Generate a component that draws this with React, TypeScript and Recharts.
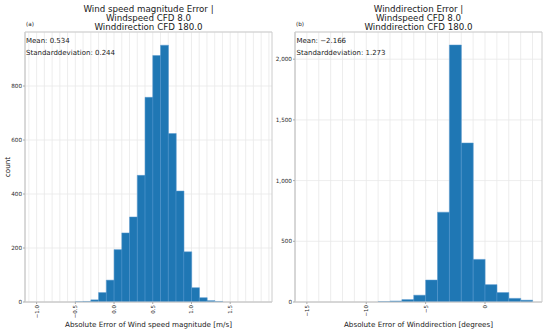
import React from 'react';
import { BarChart, Bar, XAxis, YAxis, CartesianGrid, ReferenceArea } from 'recharts';

// Left panel: wind speed magnitude error histogram (bin centres, counts)
const speedBins = [-0.45, -0.35, -0.25, -0.15, -0.05, 0.05, 0.15, 0.25, 0.35, 0.45, 0.55, 0.65, 0.75, 0.85, 0.95, 1.05, 1.15, 1.25, 1.35];
const speedCounts = [1, 2, 8, 35, 81, 194, 256, 315, 469, 758, 913, 951, 624, 411, 186, 53, 16, 5, 2];
const speedXDomain = [-1.15, 2.04];
const speedYDomain = [0, 1000];
const speedXTicks = [-1, -0.5, 0, 0.5, 1, 1.5];
const speedYTicks = [0, 200, 400, 600, 800];
const speedGridX = [-1.1, -1.0, -0.9, -0.8, -0.7, -0.6, -0.5, -0.4, -0.3, -0.2, -0.1, 0, 0.1, 0.2, 0.3, 0.4, 0.5, 0.6, 0.7, 0.8, 0.9, 1.0, 1.1, 1.2, 1.3, 1.4, 1.5, 1.6, 1.7, 1.8, 1.9, 2.0];

// Right panel: wind direction error histogram
const dirBins = [-8.5, -7.5, -6.5, -5.5, -4.5, -3.5, -2.5, -1.5, -0.5, 0.5, 1.5, 2.5, 3.5];
const dirCounts = [3, 8, 20, 56, 181, 740, 2117, 1310, 351, 143, 78, 30, 15];
const dirXDomain = [-16, 4.8];
const dirYDomain = [0, 2224];
const dirXTicks = [-15, -10, -5, 0];
const dirYTicks = [0, 500, 1000, 1500, 2000];
const dirGridX = [-16, -15, -14, -13, -12, -11, -10, -9, -8, -7, -6, -5, -4, -3, -2, -1, 0, 1, 2, 3, 4];

const speedData = speedBins.map((b, i) => ({ bin: b, count: speedCounts[i] }));
const dirData = dirBins.map((b, i) => ({ bin: b, count: dirCounts[i] }));

const FONT = 'DejaVu Sans';
const BLUE = '#1f77b4';
const GRID = '#e8e8e8';
const SPINE = '#cccccc';
const TICKTXT = '#2a2a2a';
const TXT = '#1a1a1a';

const minus = (s: string) => s.replace('-', '\u2212');

const makeRotTick = (fmt: (v: number) => string) => (props: any) => {
  const { x, y, payload } = props;
  return (
    <text
      x={x}
      y={y}
      transform={`rotate(-90 ${x} ${y})`}
      textAnchor="end"
      dy="0.35em"
      fontSize={5.5}
      fill={TICKTXT}
      fontFamily={FONT}
    >
      {fmt(payload.value)}
    </text>
  );
};

const gridGen = (vals: number[], domain: number[]) => (args: any) => {
  const { xAxis, offset } = args || {};
  if (xAxis && typeof xAxis.scale === 'function') {
    return vals.map((v) => xAxis.scale(v));
  }
  return vals.map((v) => offset.left + ((v - domain[0]) / (domain[1] - domain[0])) * offset.width);
};

interface PanelProps {
  data: { bin: number; count: number }[];
  xDomain: number[];
  yDomain: number[];
  xTicks: number[];
  yTicks: number[];
  gridX: number[];
  yWidth: number;
  rightMargin: number;
  xFmt: (v: number) => string;
  yFmt: (v: number) => string;
}

const Panel = (p: PanelProps) => (
  <BarChart
    width={275}
    height={333}
    data={p.data}
    margin={{ top: 32, right: p.rightMargin, bottom: 11, left: 0 }}
    barCategoryGap={0}
    barGap={0}
  >
    <CartesianGrid
      stroke={GRID}
      strokeWidth={0.8}
      verticalCoordinatesGenerator={gridGen(p.gridX, p.xDomain)}
    />
    <XAxis
      dataKey="bin"
      type="number"
      domain={p.xDomain}
      ticks={p.xTicks}
      allowDataOverflow
      height={20}
      tickSize={2}
      tickMargin={1}
      interval={0}
      axisLine={{ stroke: SPINE }}
      tickLine={{ stroke: '#aaaaaa' }}
      tick={makeRotTick(p.xFmt)}
    />
    <YAxis
      type="number"
      domain={p.yDomain}
      ticks={p.yTicks}
      allowDataOverflow
      width={p.yWidth}
      tickSize={2}
      tickMargin={1}
      interval={0}
      axisLine={{ stroke: SPINE }}
      tickLine={{ stroke: '#aaaaaa' }}
      tick={{ fontSize: 5.7, fill: TICKTXT, fontFamily: FONT }}
      tickFormatter={p.yFmt}
    />
    <Bar dataKey="count" fill={BLUE} stroke="#5b9bd0" strokeWidth={0.5} isAnimationActive={false} />
    <ReferenceArea
      x1={p.xDomain[0]}
      x2={p.xDomain[1]}
      y1={p.yDomain[0]}
      y2={p.yDomain[1]}
      fill="none"
      stroke={SPINE}
      strokeWidth={1}
      ifOverflow="visible"
    />
  </BarChart>
);

export default function App() {
  return (
    <div style={{ position: 'absolute', left: 0, top: 0, width: 550, height: 333, background: '#fff' }}>
      <div style={{ position: 'absolute', left: 0, top: 0 }}>
        <Panel
          data={speedData}
          xDomain={speedXDomain}
          yDomain={speedYDomain}
          xTicks={speedXTicks}
          yTicks={speedYTicks}
          gridX={speedGridX}
          yWidth={25}
          rightMargin={3}
          xFmt={(v) => minus(v.toFixed(1))}
          yFmt={(v) => String(v)}
        />
      </div>
      <div style={{ position: 'absolute', left: 275, top: 0 }}>
        <Panel
          data={dirData}
          xDomain={dirXDomain}
          yDomain={dirYDomain}
          xTicks={dirXTicks}
          yTicks={dirYTicks}
          gridX={dirGridX}
          yWidth={20}
          rightMargin={8}
          xFmt={(v) => minus(String(v))}
          yFmt={(v) => v.toLocaleString('en-US')}
        />
      </div>
      <svg
        width={550}
        height={333}
        style={{ position: 'absolute', left: 0, top: 0, pointerEvents: 'none' }}
        fontFamily={FONT}
      >
        {/* Left titles */}
        <text x={148.5} y={11.5} textAnchor="middle" fontSize={8.7} fill={TXT}>Wind speed magnitude Error |</text>
        <text x={148.5} y={20.5} textAnchor="middle" fontSize={8.7} fill={TXT}>Windspeed CFD 8.0</text>
        <text x={148.5} y={29.5} textAnchor="middle" fontSize={8.7} fill={TXT}>Winddirection CFD 180.0</text>
        <text x={26} y={26} fontSize={5.7} fill={TXT}>(a)</text>
        <text x={26} y={43} fontSize={7} fill={TXT}>Mean: 0.534</text>
        <text x={26} y={54.5} fontSize={7} fill={TXT}>Standarddeviation: 0.244</text>
        <text x={148.5} y={327} textAnchor="middle" fontSize={7.2} fill={TXT}>Absolute Error of Wind speed magnitude [m/s]</text>
        <text x={7} y={167} transform="rotate(-90 7 167)" textAnchor="middle" dy="0.35em" fontSize={7.2} fill={TXT}>count</text>

        {/* Right titles */}
        <text x={418.5} y={11.5} textAnchor="middle" fontSize={8.7} fill={TXT}>Winddirection Error |</text>
        <text x={418.5} y={20.5} textAnchor="middle" fontSize={8.7} fill={TXT}>Windspeed CFD 8.0</text>
        <text x={418.5} y={29.5} textAnchor="middle" fontSize={8.7} fill={TXT}>Winddirection CFD 180.0</text>
        <text x={296} y={26} fontSize={5.7} fill={TXT}>(b)</text>
        <text x={296.5} y={43} fontSize={7} fill={TXT}>Mean: {'\u2212'}2.166</text>
        <text x={296.5} y={54.5} fontSize={7} fill={TXT}>Standarddeviation: 1.273</text>
        <text x={418.5} y={327} textAnchor="middle" fontSize={7.2} fill={TXT}>Absolute Error of Winddirection [degrees]</text>
      </svg>
    </div>
  );
}
